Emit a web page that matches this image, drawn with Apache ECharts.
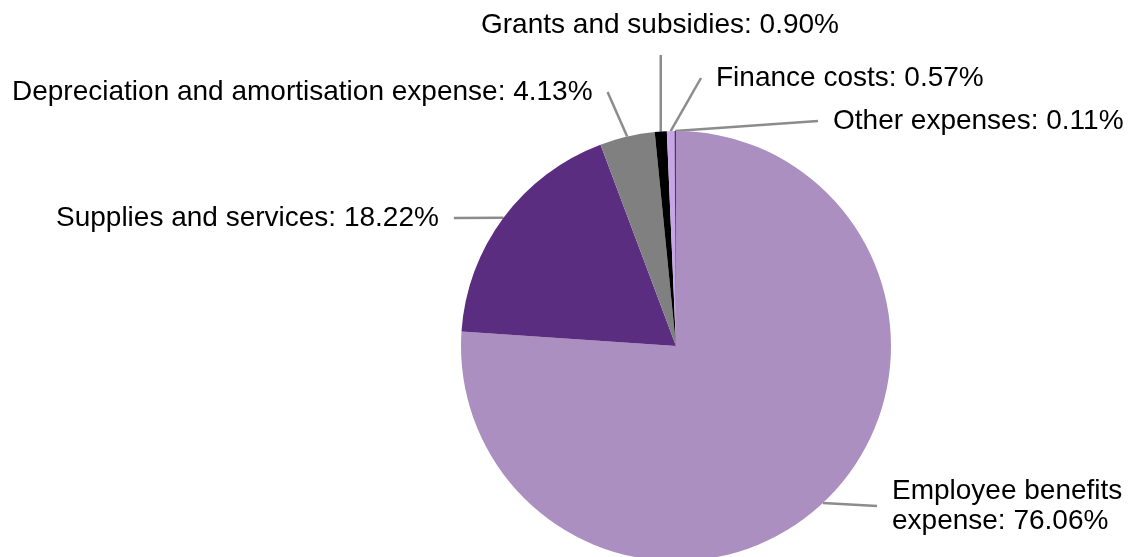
<!DOCTYPE html>
<html>
<head>
<meta charset="utf-8">
<script src="https://cdn.jsdelivr.net/npm/echarts@6/dist/echarts.min.js"></script>
<style>
  html, body { margin: 0; padding: 0; background: #fff; }
  #chart { width: 1129px; height: 557px; }
</style>
</head>
<body>
<div id="chart"></div>
<script>
// Expense categories and their share of total expenses (%)
const categories = [
  'Employee benefits expense',
  'Supplies and services',
  'Depreciation and amortisation expense',
  'Grants and subsidies',
  'Finance costs',
  'Other expenses'
];
const shares = [76.06, 18.22, 4.13, 0.90, 0.57, 0.11];
const sliceColors = ['#AA8FC0', '#5B2D81', '#808080', '#000000', '#C6A6E6', '#5B2D81'];

// Label boxes (left, top) and the side of the box the leader line meets
const labelSpots = [
  [892, 476],
  [56, 203],
  [12, 77],
  [481, 10],
  [716, 63],
  [833, 106]
];
const leaderSides = ['left', 'right', 'right', 'bottom', 'left', 'left'];
const LEADER_GAP = 15;

const chart = echarts.init(document.getElementById('chart'), null, { renderer: 'canvas' });

const data = categories.map((name, i) => ({
  name: name,
  value: shares[i],
  itemStyle: { color: sliceColors[i] },
  label: i === 0 ? { width: 250, overflow: 'break' } : {}
}));

chart.setOption({
  animation: false,
  backgroundColor: '#ffffff',
  series: [{
    type: 'pie',
    center: [676, 346],
    radius: 215,
    startAngle: 90,
    clockwise: true,
    avoidLabelOverlap: false,
    data: data,
    itemStyle: { borderWidth: 0 },
    label: {
      show: true,
      color: '#000',
      fontFamily: 'Liberation Sans, Arial, sans-serif',
      fontSize: 28,
      lineHeight: 30,
      formatter: p => p.name + ': ' + p.value.toFixed(2) + '%'
    },
    labelLine: {
      show: true,
      length: 20,
      length2: 20,
      lineStyle: { color: '#8C8C8C', width: 2.5 }
    },
    labelLayout: function (params) {
      const i = params.dataIndex;
      const [x, y] = labelSpots[i];
      const w = params.labelRect.width;
      const h = params.labelRect.height;
      const out = { x: x, y: y, align: 'left', verticalAlign: 'top' };
      const pts = params.labelLinePoints;
      if (pts && pts.length) {
        // straight leader from the slice's outer edge to the label box
        const anchor = pts[0];
        let end;
        switch (leaderSides[i]) {
          case 'left':   end = [x - LEADER_GAP, y + h / 2]; break;
          case 'right':  end = [x + w + LEADER_GAP, y + h / 2]; break;
          default:       end = [anchor[0], y + h + LEADER_GAP];
        }
        out.labelLinePoints = [anchor, end];
      }
      return out;
    }
  }]
});
</script>
</body>
</html>
